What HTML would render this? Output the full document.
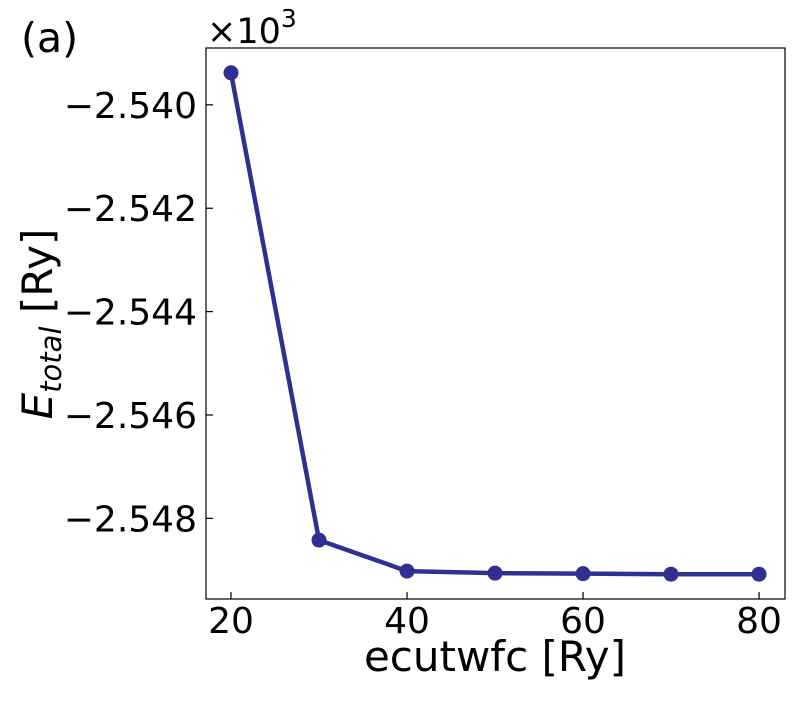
<!DOCTYPE html>
<html><head><meta charset="utf-8"><style>
body{margin:0;background:#fff;}
svg text{font-family:"DejaVu Sans","Liberation Sans",sans-serif;fill:#000;}
</style></head><body>
<svg id="chart" width="800" height="700" xmlns="http://www.w3.org/2000/svg">
<text x="21" y="52" font-size="41">(a)</text>
<rect x="206" y="48" width="579" height="551" fill="none" stroke="#000" stroke-width="1.2"/>
<g id="ticks"></g>
<text x="207" y="43" font-size="35">×10<tspan dy="-16" font-size="25">3</tspan></text>
<text x="495" y="671" font-size="42" text-anchor="middle">ecutwfc [Ry]</text>
<text transform="translate(52,324) rotate(-90)" font-size="42" text-anchor="middle"><tspan font-style="italic">E</tspan><tspan font-style="italic" font-size="29" dy="9">total</tspan><tspan dy="-9"> [Ry]</tspan></text>
<g id="series"></g>
</svg>
<script>
const xValues=[20,30,40,50,60,70,80];
const yValues=[-2539.38,-2548.42,-2549.02,-2549.06,-2549.07,-2549.08,-2549.08];
const xTicks=[20,40,60,80];
const yTicks=[-2540,-2542,-2544,-2546,-2548];
const yTickLabels=["−2.540","−2.542","−2.544","−2.546","−2.548"];
const NS="http://www.w3.org/2000/svg";
const X0=206,X1=785,Y0=48,Y1=599;
const xmin=17.16,xmax=82.95,ymin=-2549.56,ymax=-2538.90;
function sx(v){return X0+(v-xmin)/(xmax-xmin)*(X1-X0);}
function sy(v){return Y1-(v-ymin)/(ymax-ymin)*(Y1-Y0);}
function mk(t,a){const e=document.createElementNS(NS,t);for(const k in a)e.setAttribute(k,a[k]);return e;}
const tg=document.getElementById('ticks');
xTicks.forEach(v=>{
 const l=mk('line',{x1:sx(v),x2:sx(v),y1:Y1,y2:Y1-7,stroke:'#000','stroke-width':1.2});
 
 
 tg.appendChild(l);
 const t=mk('text',{x:sx(v),y:Y1+34,'font-size':36,'text-anchor':'middle'});
 t.textContent=v;
 
 
 tg.appendChild(t);
});
yTicks.forEach((v,i)=>{
 const l=mk('line',{x1:X0,x2:X0+7,y1:sy(v),y2:sy(v),stroke:'#000','stroke-width':1.2});
 
 
 tg.appendChild(l);
 const t=mk('text',{x:X0-9,y:sy(v)+13,'font-size':36,'text-anchor':'end'});
 t.textContent=yTickLabels[i];
 
 
 tg.appendChild(t);
});
const sg=document.getElementById('series');
const pl=mk('polyline',{points:xValues.map((x,i)=>sx(x)+','+sy(yValues[i])).join(' '),fill:'none',stroke:'#2e3192','stroke-width':4.5,'stroke-linejoin':'round'});


sg.appendChild(pl);
xValues.forEach((x,i)=>{
 const c=mk('circle',{cx:sx(x),cy:sy(yValues[i]),r:7.5,fill:'#2e3192'});
 
 
 sg.appendChild(c);
});
</script>
</body></html>
